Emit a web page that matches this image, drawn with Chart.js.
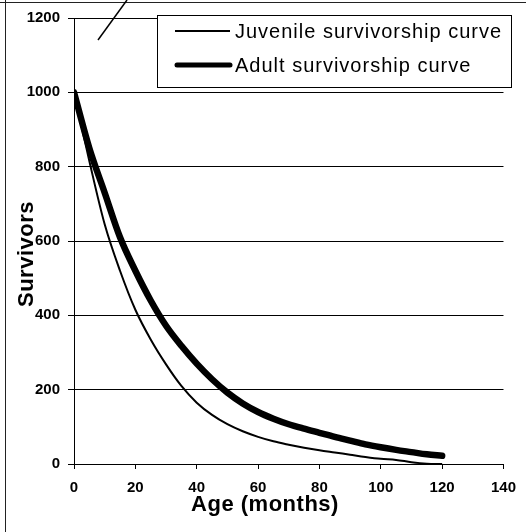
<!DOCTYPE html>
<html><head><meta charset="utf-8">
<script src="https://cdn.jsdelivr.net/npm/chart.js@4.4.1/dist/chart.umd.min.js"></script>
<style>html,body{margin:0;padding:0;background:#fff}#wrap{width:526px;height:532px;position:relative}</style>
</head><body><div id="wrap"><canvas id="c" width="526" height="532"></canvas></div>
<script>
const months   = [0,5,10,15,20,25,30,35,40,45,50,55,60,65,70,75,80,85,90,95,100,105,110,115,120];
const juvenile = [1000,815,645,520,415,335,268,210,165,132,107,88,73,61,52,44,37,31,25,19,14,11,5,1,0];
const adult    = [1000,850,730,610,520,440,372,318,270,228,192,163,140,122,107,95,84,73,63,53,45,38,32,26,22];
const seriesNames = ['Juvenile survivorship curve','Adult survivorship curve'];
const xTitle = 'Age (months)';
const yTitle = 'Survivors';
const xRange = [0,140,20];
const yRange = [0,1200,200];

const FONT = "'Liberation Sans', Arial, sans-serif";
const toPts = (ys) => months.map((m,i)=>({x:m,y:ys[i]}));

const decor = {
  id:'decor',
  afterDraw(chart){
    const ctx = chart.ctx;
    ctx.save();
    ctx.strokeStyle = '#222'; ctx.lineWidth = 1;
    ctx.beginPath(); ctx.moveTo(5.5,0); ctx.lineTo(5.5,532); ctx.stroke();
    ctx.beginPath(); ctx.moveTo(0,2.5); ctx.lineTo(526,2.5); ctx.stroke();
    ctx.lineWidth = 1.5; ctx.strokeStyle='#000';
    ctx.beginPath(); ctx.moveTo(98,40); ctx.lineTo(127,0); ctx.stroke();
    ctx.fillStyle = '#fff'; ctx.fillRect(157,15,355,73);
    ctx.lineWidth = 1; ctx.strokeStyle = '#000';
    ctx.strokeRect(157.5,15.5,354,72);
    ctx.lineCap = 'butt';
    ctx.lineWidth = 2; ctx.beginPath(); ctx.moveTo(175,31); ctx.lineTo(230,31); ctx.stroke();
    ctx.lineCap = 'round';
    ctx.lineWidth = 5; ctx.beginPath(); ctx.moveTo(177,65); ctx.lineTo(230,65); ctx.stroke();
    ctx.fillStyle = '#000';
    ctx.font = "20px " + FONT;
    ctx.textAlign = 'left'; ctx.textBaseline = 'alphabetic';
    try { ctx.letterSpacing = '1px'; } catch(e){}
    ctx.fillText(seriesNames[0], 235, 37.5);
    ctx.fillText(seriesNames[1], 235, 71.5);
    ctx.font = "bold 22px " + FONT;
    try { ctx.letterSpacing = '0.5px'; } catch(e){}
    ctx.textAlign = 'center';
    ctx.fillText(xTitle, 265, 511);
    ctx.translate(33, 254); ctx.rotate(-Math.PI/2);
    ctx.fillText(yTitle, 0, 0);
    ctx.restore();
  }
};

new Chart(document.getElementById('c'), {
  type:'line',
  data:{ datasets:[
    {label:seriesNames[0], data:toPts(juvenile), borderColor:'#000', borderWidth:2, pointRadius:0, cubicInterpolationMode:'monotone', fill:false},
    {label:seriesNames[1], data:toPts(adult), borderColor:'#000', borderWidth:6.5, pointRadius:0, cubicInterpolationMode:'monotone', fill:false, borderCapStyle:'round'}
  ]},
  options:{
    responsive:false, devicePixelRatio:1, animation:false,
    layout:{padding:{top:18,right:16,bottom:0,left:0}},
    plugins:{legend:{display:false}, tooltip:{enabled:false}},
    scales:{
      x:{type:'linear', min:xRange[0], max:xRange[1],
         ticks:{stepSize:xRange[2], color:'#000', font:{family:FONT,size:15,weight:'bold'}, padding:10, maxRotation:0,
                callback:(v)=>String(v)},
         grid:{drawOnChartArea:false, drawTicks:true, tickLength:5, color:'#000'},
         border:{color:'#000', width:1},
         afterFit(s){ s.height = 68; }},
      y:{min:yRange[0], max:yRange[1],
         ticks:{stepSize:yRange[2], color:'#000', font:{family:FONT,size:15,weight:'bold'}, padding:8,
                callback:(v)=>String(v)},
         grid:{color:'#000', tickLength:6, drawTicks:true},
         border:{color:'#000', width:1},
         afterFit(s){ s.width = 74; }}
    }
  },
  plugins:[decor]
});
</script></body></html>
